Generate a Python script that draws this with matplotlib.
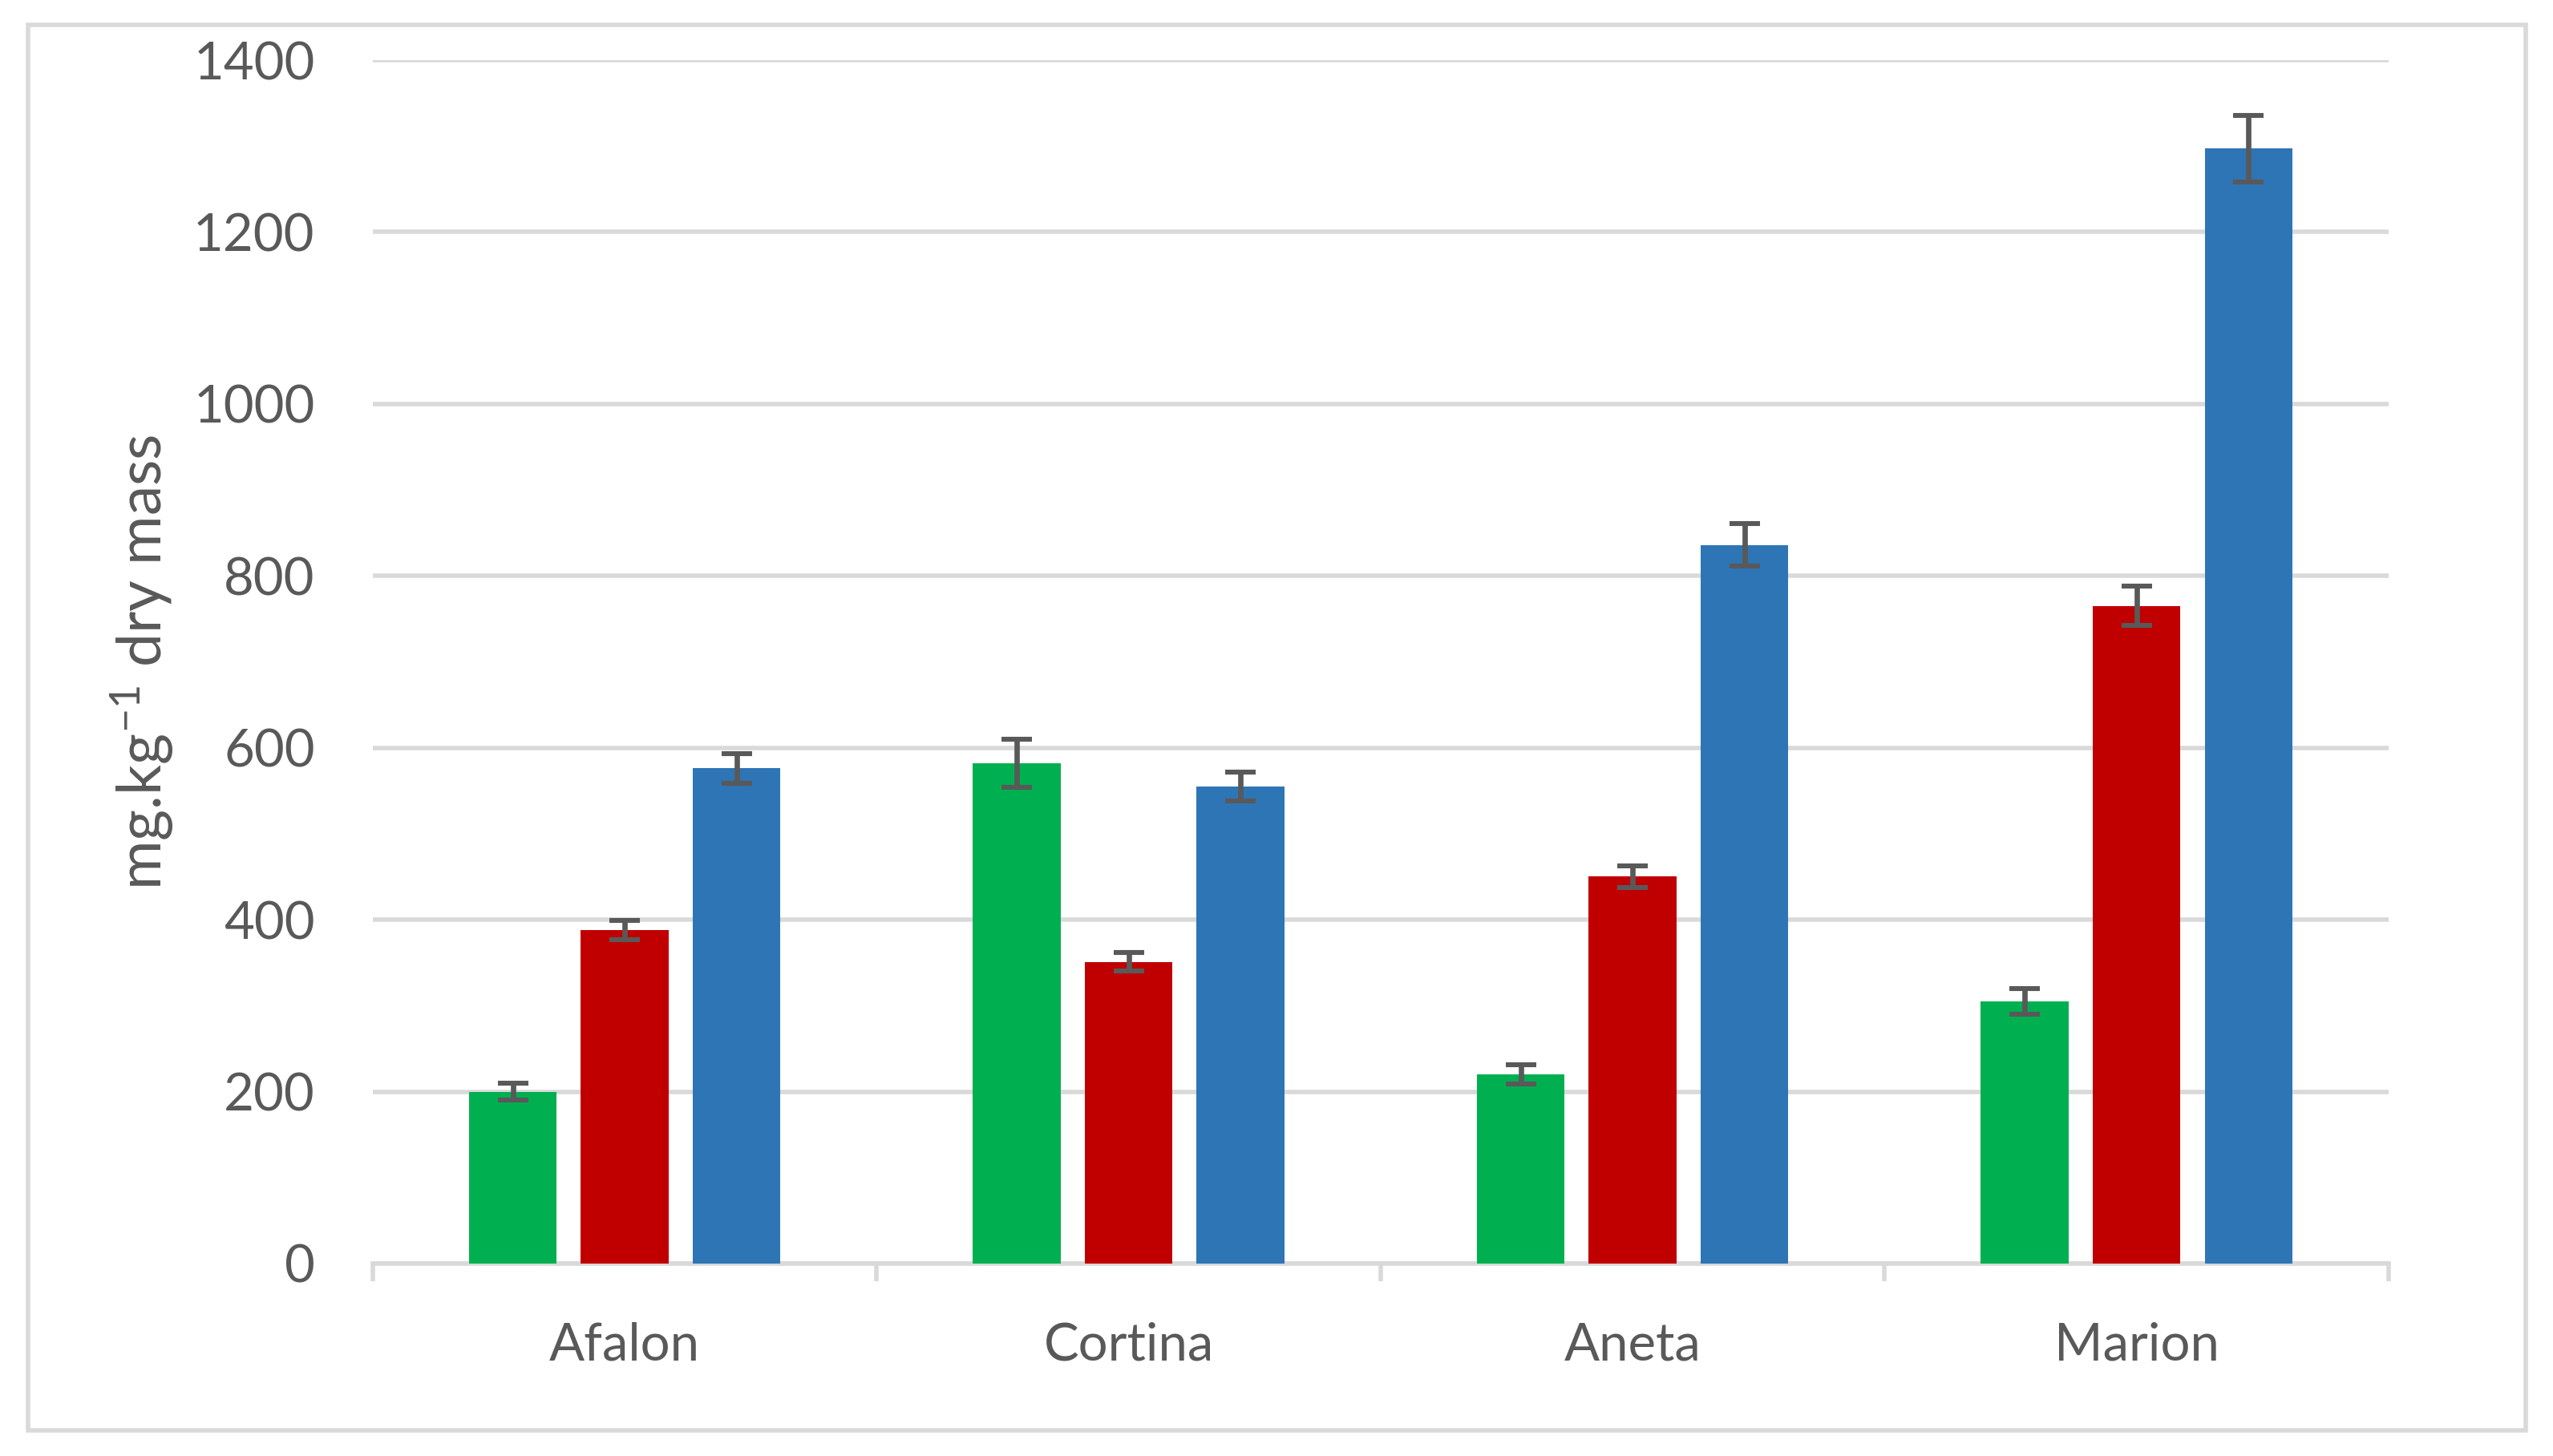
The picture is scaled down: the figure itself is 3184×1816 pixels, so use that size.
import numpy as np
import matplotlib.pyplot as plt
from matplotlib.patches import Rectangle

# data
varieties = ['Afalon', 'Cortina', 'Aneta', 'Marion']
green_vals = [200, 582, 220, 305]
green_err = [10, 28, 11, 15]
red_vals = [388, 351, 450, 765]
red_err = [11, 11, 13, 23]
blue_vals = [576, 555, 836, 1297]
blue_err = [17, 17, 25, 39]
yticks = [0, 200, 400, 600, 800, 1000, 1200, 1400]

plt.rcParams['font.family'] = ['Lato', 'DejaVu Sans']
plt.rcParams['mathtext.default'] = 'regular'

grey_text = '#595959'
grey_line = '#D9D9D9'

fig = plt.figure(figsize=(15.92, 9.08), dpi=200)
ax = fig.add_axes([0.146, 0.1322, 0.7896, 0.8265])

# frame around whole chart
fig.patches.append(Rectangle((35/3184, 1-1784/1816), (3150-35)/3184, (1784-31)/1816,
                             transform=fig.transFigure, fill=False,
                             edgecolor=grey_line, linewidth=2))

x = np.arange(len(varieties))
w = 0.174
off = 0.222
errkw = dict(ecolor=grey_text, elinewidth=2.4, capsize=6.7, capthick=2.2)
ax.bar(x - off, green_vals, w, yerr=green_err, color='#00B050', error_kw=errkw, zorder=3)
ax.bar(x, red_vals, w, yerr=red_err, color='#C00000', error_kw=errkw, zorder=3)
ax.bar(x + off, blue_vals, w, yerr=blue_err, color='#2E75B6', error_kw=errkw, zorder=3)

ax.set_xlim(-0.5, len(varieties) - 0.5)
ax.set_ylim(0, 1400)
ax.set_yticks(yticks)
ax.yaxis.grid(True, color=grey_line, linewidth=2, zorder=0)
ax.set_axisbelow(True)

for s in ['top', 'right', 'left']:
    ax.spines[s].set_visible(False)
ax.spines['bottom'].set_color(grey_line)
ax.spines['bottom'].set_linewidth(2)

# labels at category centres, ticks at category boundaries
ax.set_xticks(x)
ax.set_xticklabels(varieties)
ax.set_xticks(np.arange(-0.5, len(varieties)), minor=True)
ax.tick_params(axis='x', which='major', length=0, pad=26, labelsize=23.5, labelcolor=grey_text)
ax.tick_params(axis='x', which='minor', length=8, width=2, color=grey_line, direction='out')
ax.tick_params(axis='y', length=0, pad=26, labelsize=23.5, labelcolor=grey_text)

ax.set_ylabel('mg.kg$^{-1}$ dry mass', fontsize=27, color=grey_text, labelpad=8)

fig.savefig('out.png', dpi=200, facecolor='white')
